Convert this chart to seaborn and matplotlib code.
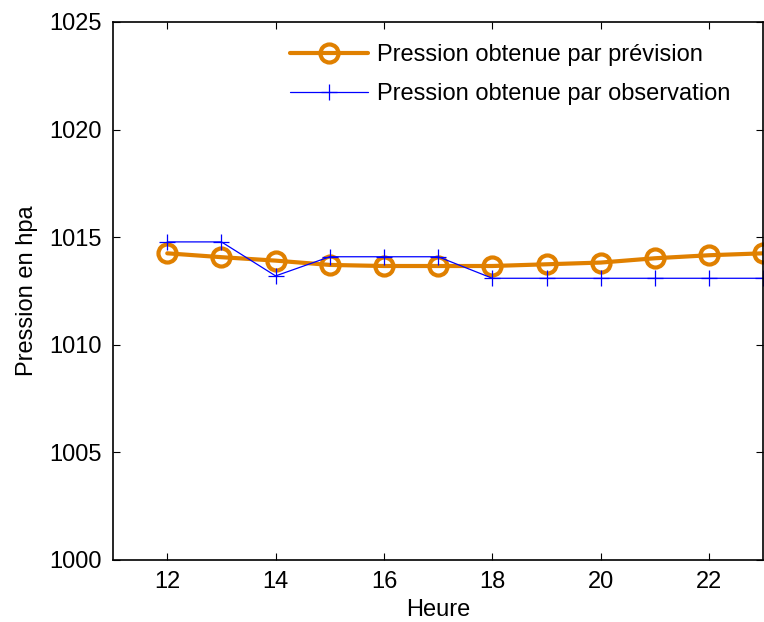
import matplotlib
matplotlib.use("Agg")
import matplotlib.pyplot as plt
import seaborn as sns
import pandas as pd

heures = [12, 13, 14, 15, 16, 17, 18, 19, 20, 21, 22, 23]
prevision = [1014.25, 1014.07, 1013.91, 1013.71, 1013.66, 1013.66, 1013.66, 1013.74, 1013.82, 1014.02, 1014.16, 1014.25]
observation = [1014.78, 1014.78, 1013.20, 1014.09, 1014.09, 1014.09, 1013.09, 1013.09, 1013.09, 1013.09, 1013.09, 1013.09]
xticks = [12, 14, 16, 18, 20, 22]
yticks = [1000, 1005, 1010, 1015, 1020, 1025]

sns.set_theme(style="white", rc={"text.color": "black", "axes.labelcolor": "black",
                                 "xtick.color": "black", "ytick.color": "black"})
plt.rcParams['font.family'] = ['Liberation Sans', 'DejaVu Sans']

df = pd.DataFrame({"Heure": heures, "prev": prevision, "obs": observation})

fig = plt.figure(figsize=(7.64, 6.22), dpi=100)
ax = fig.add_axes([0.148, 0.0997, 0.851, 0.865])

sns.lineplot(data=df, x="Heure", y="prev", ax=ax, color="#E08000", linewidth=3,
             marker="o", markersize=13, markerfacecolor="none", markeredgecolor="#E08000",
             markeredgewidth=3, label="Pression obtenue par prévision")
sns.lineplot(data=df, x="Heure", y="obs", ax=ax, color="#0000FF", linewidth=0.9,
             marker="+", markersize=12, markeredgewidth=0.9, markeredgecolor="#0000FF",
             label="Pression obtenue par observation")

ax.set_xlim(11, 23)
ax.set_ylim(1000, 1025)
ax.set_xticks(xticks)
ax.set_yticks(yticks)
ax.set_xlabel("Heure", fontsize=17, labelpad=4, color="black")
ax.set_ylabel("Pression en hpa", fontsize=17, labelpad=8, color="black")
ax.tick_params(direction="in", length=5, width=0.8, labelsize=17, top=True, right=True,
               bottom=True, left=True, colors="black", pad=8)
for s in ax.spines.values():
    s.set_color("black")
    s.set_linewidth(1.2)
ax.grid(False)
leg = ax.legend(loc="upper right", frameon=False, fontsize=17, handlelength=3.3,
                handletextpad=0.4, labelspacing=0.72, borderaxespad=0.3,
                bbox_to_anchor=(0.975, 0.99), labelcolor="black")

fig.savefig("out.png", dpi=100)
